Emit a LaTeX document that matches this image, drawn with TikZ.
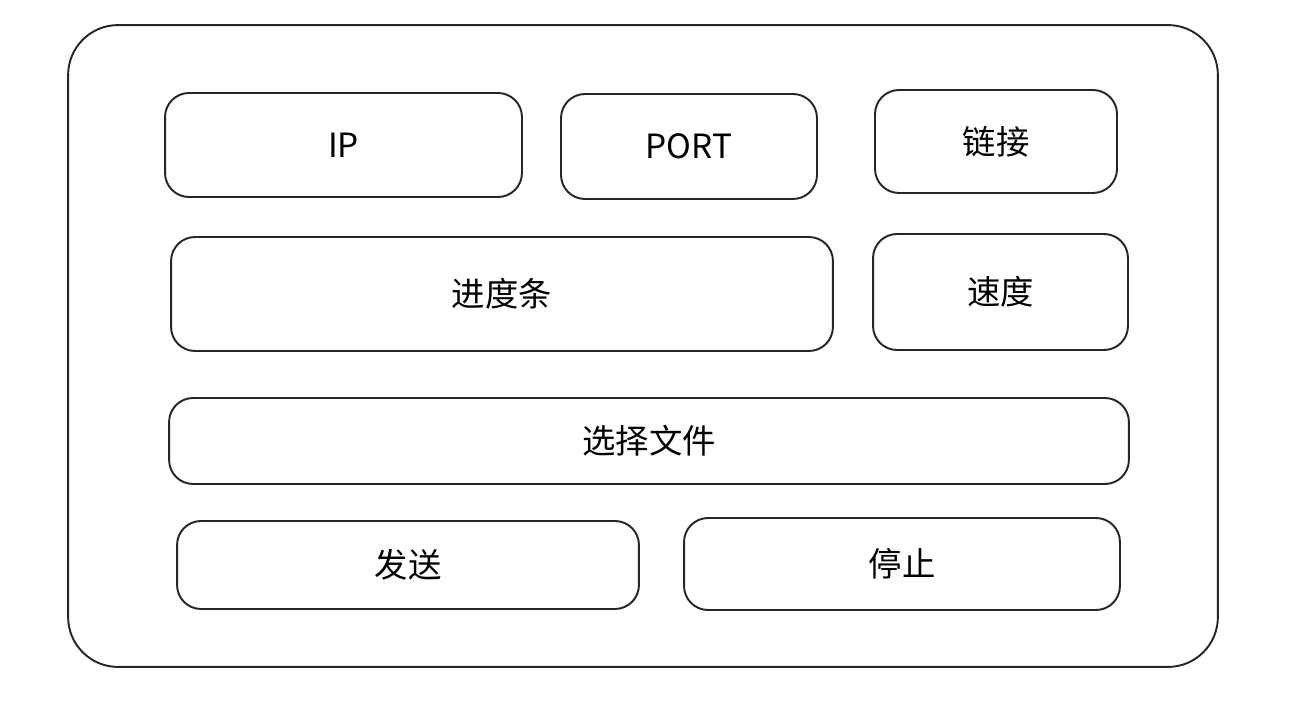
\documentclass[tikz,border=0pt]{standalone}
\usepackage{fontspec}
\newfontfamily\cjk{Noto Sans CJK SC}
\usepackage{tikz}

\begin{document}
\begin{tikzpicture}[x=0.02cm, y=-0.02cm,
	panel/.style={draw=black!85, line width=1.1pt, rounded corners=1cm,
		inner sep=0pt, outer sep=0pt},
	btn/.style={draw=black!85, line width=1.1pt, rounded corners=0.48cm,
		inner sep=0pt, outer sep=0pt,
		font=\cjk\fontsize{19pt}{23pt}\selectfont}]
		\useasboundingbox (0,0) rectangle (1292,720);
		%draw window
		\node[panel, minimum width=23cm, minimum height=12.84cm] (window) at (643,346) {};
		%draw first row
		\node[btn, minimum width=7.14cm, minimum height=2.08cm] (ip) at (343.5,145) {IP};
		\node[btn, minimum width=5.12cm, minimum height=2.1cm] (port) at (689,146.5) {PORT};
		\node[btn, minimum width=4.84cm, minimum height=2.06cm] (connect) at (996,141.5) {链接};
		%draw second row
		\node[btn, minimum width=13.24cm, minimum height=2.28cm] (progress) at (502,294) {进度条};
		\node[btn, minimum width=5.1cm, minimum height=2.32cm] (speed) at (1000.5,292) {速度};
		%draw file chooser
		\node[btn, minimum width=19.2cm, minimum height=1.72cm] (choose) at (649,441) {选择文件};
		%draw bottom row
		\node[btn, minimum width=9.24cm, minimum height=1.76cm] (send) at (408,565) {发送};
		\node[btn, minimum width=8.72cm, minimum height=1.84cm] (stop) at (902,564) {停止};
	\end{tikzpicture}
\end{document}
